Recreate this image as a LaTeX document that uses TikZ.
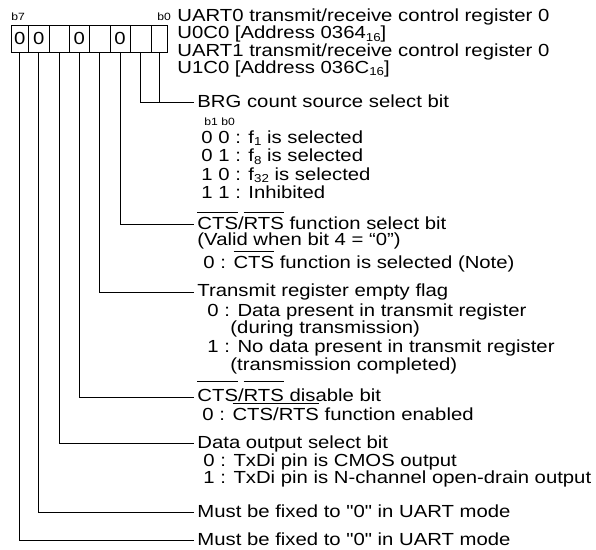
\documentclass[tikz,border=0pt]{standalone}
\usepackage{fontspec}
\newfontfamily\mainf{Liberation Sans}[FakeStretch=1.16]
\newsavebox\ovlbox
\newcommand\ovl[2][16.5pt]{\sbox\ovlbox{#2}\rlap{\rule[#1]{\wd\ovlbox}{0.9pt}}\usebox\ovlbox}
\newcommand\mysub[1]{\raisebox{-2.5pt}{\fontsize{11.5}{11.5}\selectfont #1}}
\begin{document}
\begin{tikzpicture}[x=1pt,y=-1pt, line width=0.9pt,
  cell/.style={draw, inner sep=0pt, minimum height=27pt, font=\mainf\fontsize{17.5}{18}\selectfont},
  txt/.style={anchor=base west, inner sep=0pt, text height=12.7pt, text depth=3.7pt, font=\mainf\fontsize{17.5}{18}\selectfont},
  small/.style={anchor=base west, inner sep=0pt, font=\mainf\fontsize{10.5}{11}\selectfont},
  conn/.style={line width=0.9pt}]
\useasboundingbox (0,0) rectangle (596,549);
% register cells b7 ... b0
\node[cell, minimum width=17.5pt] (c7) at (19.75,38.5) {0};
\node[cell, minimum width=20.5pt] (c6) at (38.75,38.5) {0};
\node[cell, minimum width=20pt]   (c5) at (59,38.5) {};
\node[cell, minimum width=20.5pt] (c4) at (79.25,38.5) {0};
\node[cell, minimum width=20.5pt] (c3) at (99.75,38.5) {};
\node[cell, minimum width=20pt]   (c2) at (120,38.5) {0};
\node[cell, minimum width=21pt]   (c1) at (140.5,38.5) {};
\node[cell, minimum width=16pt]   (c0) at (159,38.5) {};
\node[small] (lb7) at (11,20) {b7};
\node[small] (lb0) at (157,20) {b0};
% header
\node[txt] (h1) at (177,21.7) {UART0 transmit/receive control register 0};
\node[txt] (h2) at (177,38.7) {U0C0 [Address 0364\mysub{16}]};
\node[txt] (h3) at (177,56) {UART1 transmit/receive control register 0};
\node[txt] (h4) at (177,73.3) {U1C0 [Address 036C\mysub{16}]};
% BRG
\node[txt] (brg) at (197,107) {BRG count source select bit};
\node[small] (bb) at (204,125) {b1 b0};
\node[txt] (brg0) at (201,143) {0 0 : f\mysub{1} is selected};
\node[txt] (brg1) at (201,161.5) {0 1 : f\mysub{8} is selected};
\node[txt] (brg2) at (201,180) {1 0 : f\mysub{32} is selected};
\node[txt] (brg3) at (201,198) {1 1 : Inhibited};
% CTS/RTS function select
\node[txt] (cts) at (197,229) {\ovl{CTS}/\ovl{RTS} function select bit};
\node[txt] (cts1) at (197,245.5) {(Valid when bit 4 = “0”)};
\node[txt] (cts2) at (203,268) {0 : \ovl{CTS} function is selected (Note)};
% transmit register empty
\node[txt] (txe) at (197,296.5) {Transmit register empty flag};
\node[txt] (txe0) at (207,316) {0 : Data present in transmit register};
\node[txt] (txe0b) at (230,333) {(during transmission)};
\node[txt] (txe1) at (207,352) {1 : No data present in transmit register};
\node[txt] (txe1b) at (230,370) {(transmission completed)};
% CTS/RTS disable
\node[txt] (crd) at (197,401.5) {\ovl[20pt]{CTS}/\ovl[20pt]{RTS} disable bit};
\node[txt] (crd0) at (202,420) {0 : \ovl{CTS/RTS} function enabled};
% data output select
\node[txt] (nch) at (197,448) {Data output select bit};
\node[txt] (nch0) at (203,466) {0 : TxDi pin is CMOS output};
\node[txt] (nch1) at (203,483.5) {1 : TxDi pin is N-channel open-drain output};
% must be fixed
\node[txt] (m1) at (197,517) {Must be fixed to "0" in UART mode};
\node[txt] (m2) at (197,545) {Must be fixed to "0" in UART mode};
% connectors
\draw[conn] (c1.south) |- ([xshift=-3pt]brg.west);
\draw[conn] (c0.south) -- (c0.south |- brg.west);
\draw[conn] (c2.south) |- ([xshift=-3pt]cts.west);
\draw[conn] (c3.south) |- ([xshift=-3pt]txe.west);
\draw[conn] (c4.south) |- ([xshift=-3pt]crd.west);
\draw[conn] (c5.south) |- ([xshift=-3pt]nch.west);
\draw[conn] (c6.south) |- ([xshift=-3pt]m1.west);
\draw[conn] (c7.south) |- ([xshift=-3pt]m2.west);
\end{tikzpicture}
\end{document}
